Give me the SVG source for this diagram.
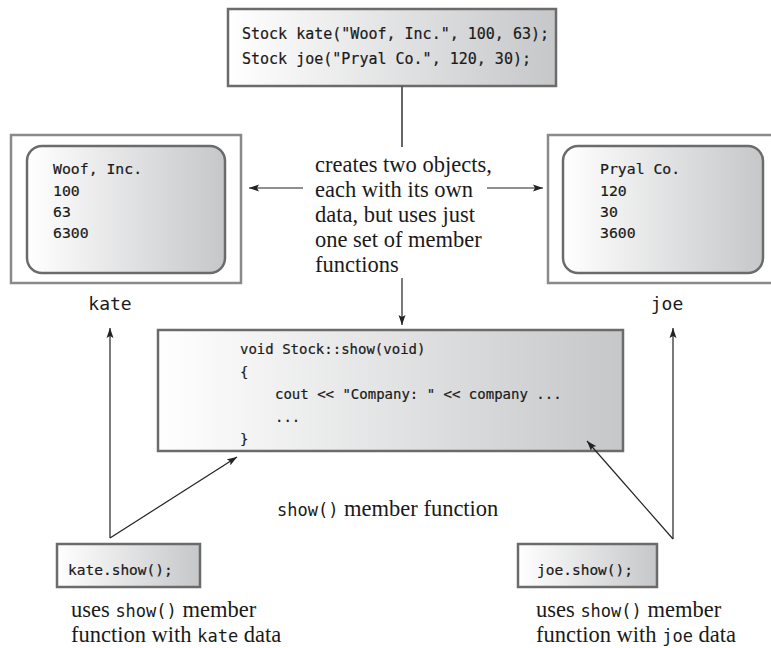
<svg xmlns="http://www.w3.org/2000/svg" width="771" height="648" viewBox="0 0 771 648">
<defs>
<linearGradient id="g" x1="0" y1="0" x2="1" y2="0">
<stop offset="0" stop-color="#ffffff"/>
<stop offset="1" stop-color="#c6c7c9"/>
</linearGradient>
<marker id="ah" markerUnits="userSpaceOnUse" markerWidth="11" markerHeight="8" refX="10" refY="4" orient="auto">
<path d="M0,0.5 L10,4 L0,7.5 L2,4 Z" fill="#222"/>
</marker>
<style>
.box{fill:url(#g);stroke:#6b6b6b;stroke-width:2.5}
.outer{fill:#fff;stroke:#8a8a8a;stroke-width:2.5}
.code{font-family:"DejaVu Sans Mono","Liberation Mono",monospace;fill:#1a1a1a;stroke:#1a1a1a;stroke-width:0.2}
.serif{font-family:"Liberation Serif","Times New Roman",serif;font-size:22.5px;fill:#1a1a1a}
.note{font-family:"Liberation Serif","Times New Roman",serif;font-size:22.5px;fill:#1a1a1a}
.mono{font-family:"DejaVu Sans Mono","Liberation Mono",monospace;fill:#1a1a1a}
.conn{stroke:#222;stroke-width:1.2;fill:none}
</style>
</defs>
<rect width="771" height="648" fill="#fff"/>

<g id="decl">
<rect class="box" x="228" y="9" width="328" height="77"/>
<text class="code" font-size="15" x="242" y="39">Stock kate("Woof, Inc.", 100, 63);</text>
<text class="code" font-size="15" x="242" y="64">Stock joe("Pryal Co.", 120, 30);</text>
</g>

<g id="kate">
<rect class="outer" x="11" y="135" width="230" height="148"/>
<rect class="box" x="27" y="146" width="198" height="127" rx="15"/>
<text class="code" font-size="14.8" x="53" y="174">Woof, Inc.</text>
<text class="code" font-size="14.8" x="53" y="196">100</text>
<text class="code" font-size="14.8" x="53" y="217">63</text>
<text class="code" font-size="14.8" x="53" y="238">6300</text>
<text class="mono" font-size="18" x="110" y="310" text-anchor="middle">kate</text>
</g>

<g id="joe">
<rect class="outer" x="548" y="135" width="232" height="148"/>
<rect class="box" x="563" y="146" width="200" height="127" rx="15"/>
<text class="code" font-size="14.8" x="600" y="174">Pryal Co.</text>
<text class="code" font-size="14.8" x="600" y="196">120</text>
<text class="code" font-size="14.8" x="600" y="217">30</text>
<text class="code" font-size="14.8" x="600" y="238">3600</text>
<text class="mono" font-size="18" x="667" y="310" text-anchor="middle">joe</text>
</g>

<g id="note">
<text class="note" x="315" y="172">creates two objects,</text>
<text class="note" x="315" y="197">each with its own</text>
<text class="note" x="315" y="222">data, but uses just</text>
<text class="note" x="315" y="247">one set of member</text>
<text class="note" x="315" y="272">functions</text>
</g>

<g id="show">
<rect class="box" x="158" y="330" width="465" height="121"/>
<text class="code" font-size="14" x="240" y="354">void Stock::show(void)</text>
<text class="code" font-size="14" x="240" y="377">{</text>
<text class="code" font-size="14" x="275" y="399">cout &lt;&lt; "Company: " &lt;&lt; company ...</text>
<text class="code" font-size="14" x="275" y="422">...</text>
<text class="code" font-size="14" x="240" y="444">}</text>
<text class="serif" font-size="23" x="277" y="516"><tspan class="mono" font-size="17">show()</tspan> member function</text>
</g>

<g id="kateshow">
<rect class="box" x="57" y="544" width="143" height="43"/>
<text class="code" font-size="14.5" x="68" y="575">kate.show();</text>
<text class="serif" x="71" y="617">uses <tspan class="mono" font-size="17">show()</tspan> member</text>
<text class="serif" x="71" y="642">function with <tspan class="mono" font-size="17">kate</tspan> data</text>
</g>

<g id="joeshow">
<rect class="box" x="518" y="544" width="139" height="43"/>
<text class="code" font-size="14.5" x="537" y="575">joe.show();</text>
<text class="serif" x="536" y="617">uses <tspan class="mono" font-size="17">show()</tspan> member</text>
<text class="serif" x="536" y="642">function with <tspan class="mono" font-size="17">joe</tspan> data</text>
</g>

<g id="connectors">
<line x1="402" y1="86" x2="402" y2="147" stroke="#555" stroke-width="1.8"/>
<line class="conn" x1="303" y1="188" x2="249" y2="188" marker-end="url(#ah)"/>
<line class="conn" x1="487" y1="188" x2="543" y2="188" marker-end="url(#ah)"/>
<line class="conn" x1="402" y1="278" x2="402" y2="325" marker-end="url(#ah)"/>
<line class="conn" x1="110" y1="538" x2="110" y2="328" marker-end="url(#ah)"/>
<line class="conn" x1="110" y1="538" x2="237" y2="457" marker-end="url(#ah)"/>
<line class="conn" x1="673" y1="539" x2="673" y2="328" marker-end="url(#ah)"/>
<line class="conn" x1="673" y1="539" x2="587" y2="441" marker-end="url(#ah)"/>
</g>
</svg>
